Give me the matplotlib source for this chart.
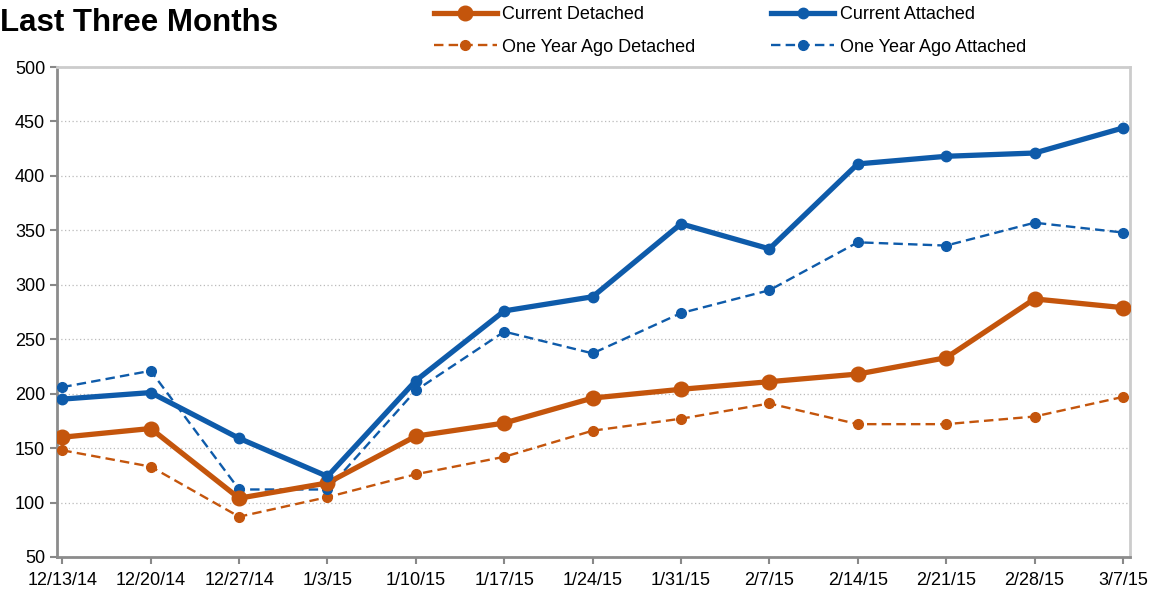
import matplotlib
matplotlib.use('Agg')
import matplotlib.pyplot as plt
from matplotlib.lines import Line2D

# Chart data
weeks = ['12/13/14', '12/20/14', '12/27/14', '1/3/15', '1/10/15', '1/17/15', '1/24/15',
         '1/31/15', '2/7/15', '2/14/15', '2/21/15', '2/28/15', '3/7/15']
current_detached = [160, 168, 104, 118, 161, 173, 196, 204, 211, 218, 233, 287, 279]
current_attached = [195, 201, 159, 124, 212, 276, 289, 356, 333, 411, 418, 421, 444]
year_ago_detached = [148, 133, 87, 105, 126, 142, 166, 177, 191, 172, 172, 179, 197]
year_ago_attached = [206, 221, 112, 112, 203, 257, 237, 274, 295, 339, 336, 357, 348]
y_ticks = [50, 100, 150, 200, 250, 300, 350, 400, 450, 500]

ORANGE = '#C4550C'
BLUE = '#0E5BAA'
DASH = (0, (4, 2.2))

plt.rcParams['font.family'] = ['Liberation Sans', 'DejaVu Sans']

fig = plt.figure(figsize=(11.5, 5.94), dpi=100)
ax = fig.add_axes([0.0496, 0.0623, 0.9330, 0.8249])

x = list(range(len(weeks)))

ax.plot(x, year_ago_detached, color=ORANGE, lw=1.7, ls=DASH,
        marker='o', ms=7, label='One Year Ago Detached', zorder=3)
ax.plot(x, year_ago_attached, color=BLUE, lw=1.7, ls=DASH,
        marker='o', ms=7, label='One Year Ago Attached', zorder=3)
ax.plot(x, current_detached, color=ORANGE, lw=3.8, marker='o', ms=10.5,
        label='Current Detached', zorder=4)
ax.plot(x, current_attached, color=BLUE, lw=3.8, marker='o', ms=7.5,
        label='Current Attached', zorder=5)

ax.set_xlim(-0.06, 12.08)
ax.set_ylim(50, 500)
ax.set_yticks(y_ticks)
ax.set_xticks(x)
ax.set_xticklabels(weeks)
ax.tick_params(axis='both', labelsize=13, colors='#888888', labelcolor='black',
               direction='out', length=5, width=1.5)
ax.tick_params(axis='x', pad=6)

ax.grid(axis='y', color='#bbbbbb', ls=(0, (1, 2)), lw=0.9)
ax.set_axisbelow(True)
for side in ['left', 'bottom']:
    ax.spines[side].set_color('#8c8c8c')
    ax.spines[side].set_linewidth(2)
for side in ['top', 'right']:
    ax.spines[side].set_color('#cccccc')
    ax.spines[side].set_linewidth(2)

fig.text(0.0, 0.962, 'Last Three Months', fontsize=22.5, fontweight='bold',
         va='center', ha='left')

handles = [
    Line2D([], [], color=ORANGE, lw=3.8, marker='o', ms=10.5),
    Line2D([], [], color=ORANGE, lw=1.7, ls=DASH, marker='o', ms=7),
    Line2D([], [], color=BLUE, lw=3.8, marker='o', ms=7.5),
    Line2D([], [], color=BLUE, lw=1.7, ls=DASH, marker='o', ms=7),
]
labels = ['Current Detached', 'One Year Ago Detached', 'Current Attached', 'One Year Ago Attached']
fig.legend(handles, labels, ncol=2, loc='center left', bbox_to_anchor=(0.377, 0.948),
           frameon=False, fontsize=13, handlelength=3.5, handletextpad=0.3,
           columnspacing=4.2, labelspacing=0.85, borderaxespad=0, borderpad=0)

fig.savefig('out.png', dpi=100)
